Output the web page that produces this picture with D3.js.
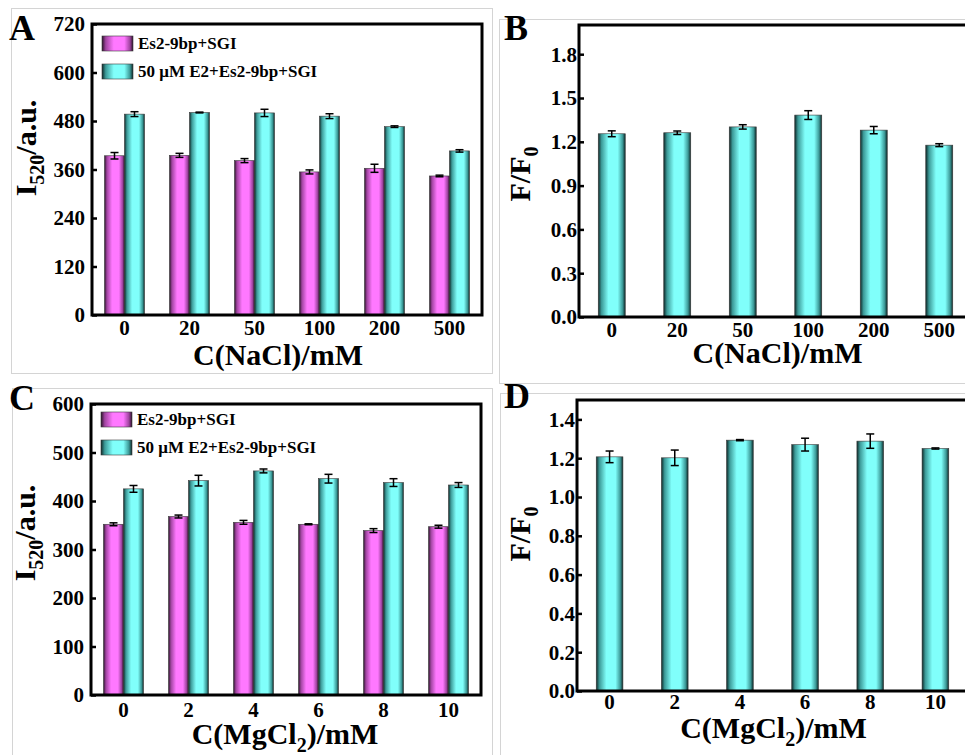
<!DOCTYPE html>
<html>
<head>
<meta charset="utf-8">
<script src="https://cdn.jsdelivr.net/npm/d3@7"></script>
<style>
  body { margin: 0; background: #fff; }
  svg text { font-family: "Liberation Serif", "Times New Roman", serif; font-weight: bold; fill: #000; }
</style>
</head>
<body>
<svg id="fig" width="965" height="755"></svg>
<script>
"use strict";

// NaCl series (panels A, B)
var naclLabels = ["0", "20", "50", "100", "200", "500"]
var naclProbe = [394, 395, 382, 354, 363, 344]
var naclProbeErr = [8, 5, 5, 5, 10, 2]
var naclE2 = [497, 501, 500, 492, 466, 406]
var naclE2Err = [6, 1, 9, 6, 2, 3]
var naclRatio = [1.255, 1.262, 1.302, 1.383, 1.280, 1.177]
var naclRatioErr = [0.02, 0.012, 0.015, 0.03, 0.025, 0.01]

// MgCl2 series (panels C, D)
var mgLabels = ["0", "2", "4", "6", "8", "10"]
var mgProbe = [352, 368, 356, 352, 339, 347]
var mgProbeErr = [3, 3, 4, 1, 4, 3]
var mgE2 = [425, 442, 462, 446, 438, 433]
var mgE2Err = [7, 11, 4, 9, 8, 5]
var mgRatio = [1.207, 1.202, 1.293, 1.270, 1.288, 1.250]
var mgRatioErr = [0.03, 0.04, 0.003, 0.033, 0.037, 0.003]

var seriesNames = ["Es2-9bp+SGI", "50 \u03bcM E2+Es2-9bp+SGI"]

var svg = d3.select("#fig")
svg.append("rect").attr("width", 965).attr("height", 755).attr("fill", "#fff")

var defs = svg.append("defs")
function makeGradient(id, dark, mid, bright) {
    var g = defs.append("linearGradient").attr("id", id)
        .attr("x1", "0%").attr("x2", "100%").attr("y1", "0%").attr("y2", "0%")
    var stops = [[0, dark], [0.12, mid], [0.38, bright], [0.72, bright], [0.9, mid], [1, dark]]
    stops.forEach(function(s) {
        g.append("stop").attr("offset", s[0]).attr("stop-color", s[1])
    })
}
makeGradient("gPink", "#2a1228", "#a044a0", "#ff78ff")
makeGradient("gCyan", "#0e2828", "#3c9a98", "#80fffb")

// light grey sub-figure frames
var frames = [[11, 8, 481, 365], [499, 19, 480, 364], [12, 388, 480, 380], [500, 393, 480, 380]]
svg.selectAll("rect.frame").data(frames).enter().append("rect")
    .attr("class", "frame")
    .attr("x", function(d) { return d[0] + 0.5 })
    .attr("y", function(d) { return d[1] + 0.5 })
    .attr("width", function(d) { return d[2] })
    .attr("height", function(d) { return d[3] })
    .attr("fill", "none").attr("stroke", "#d4d4d4").attr("stroke-width", 1)

function panel(o) {
    var g = svg.append("g")
    var x = d3.scaleBand().domain(o.labels).range([o.left, o.right])
        .paddingInner(o.pad).paddingOuter(o.pad / 2)
    var y = d3.scaleLinear().domain([0, o.ymax]).range([o.bottom, o.top])
    var sub = d3.scaleBand().domain(d3.range(o.series.length)).range([0, x.bandwidth()])
    var fills = o.series.length > 1 ? ["url(#gPink)", "url(#gCyan)"] : ["url(#gCyan)"]

    o.series.forEach(function(vals, si) {
        var rows = vals.map(function(v, i) { return { k: o.labels[i], v: v, e: o.errs[si][i] } })
        var sg = g.append("g")
        sg.selectAll("rect").data(rows).enter().append("rect")
            .attr("x", function(d) { return x(d.k) + sub(si) })
            .attr("y", function(d) { return y(d.v) })
            .attr("width", sub.bandwidth())
            .attr("height", function(d) { return y(0) - y(d.v) })
            .attr("fill", fills[si])
            .attr("stroke", "#3a3a3a").attr("stroke-width", 0.6)
        var eb = sg.selectAll("g.err").data(rows).enter().append("g")
            .attr("transform", function(d) { return "translate(" + (x(d.k) + sub(si) + sub.bandwidth() / 2) + ",0)" })
        eb.append("line").attr("y1", function(d) { return y(d.v + d.e) }).attr("y2", function(d) { return y(d.v - d.e) })
            .attr("stroke", "#000").attr("stroke-width", 1.5)
        eb.append("line").attr("x1", -4).attr("x2", 4)
            .attr("y1", function(d) { return y(d.v + d.e) }).attr("y2", function(d) { return y(d.v + d.e) })
            .attr("stroke", "#000").attr("stroke-width", 1.5)
        eb.append("line").attr("x1", -4).attr("x2", 4)
            .attr("y1", function(d) { return y(d.v - d.e) }).attr("y2", function(d) { return y(d.v - d.e) })
            .attr("stroke", "#000").attr("stroke-width", 1.5)
    })

    // frame box
    g.append("rect").attr("x", o.left).attr("y", o.top)
        .attr("width", o.right - o.left).attr("height", o.bottom - o.top)
        .attr("fill", "none").attr("stroke", "#000").attr("stroke-width", 3)

    var yAxis = d3.axisLeft(y).tickValues(o.ticks).tickSizeInner(-5).tickSizeOuter(0)
        .tickPadding(o.tpad).tickFormat(o.fmt)
    var ya = g.append("g").attr("transform", "translate(" + o.left + ",0)").call(yAxis)
    ya.select(".domain").remove()
    ya.selectAll(".tick line").attr("stroke", "#000").attr("stroke-width", 2.5)
    ya.selectAll(".tick text").attr("font-size", 21).attr("dy", "0.33em")

    var xa = g.append("g").attr("transform", "translate(0," + o.bottom + ")")
        .call(d3.axisBottom(x).tickSize(0).tickPadding(0))
    xa.select(".domain").remove()
    xa.selectAll(".tick text").attr("font-size", 21).attr("dy", null).attr("y", o.xlab)

    // axis titles
    var xt = g.append("text").attr("x", (o.left + o.right) / 2 + o.xshift).attr("y", o.xtitle)
        .attr("text-anchor", "middle").attr("font-size", 30)
    o.xparts.forEach(function(p) {
        var t = xt.append("tspan").text(p[0])
        if (p[1]) t.attr("font-size", 20).attr("dy", 8)
        else if (p[2]) t.attr("dy", -8)
    })
    var yt = g.append("text").attr("transform", "translate(" + o.ytx + "," + o.yty + ") rotate(-90)")
        .attr("text-anchor", "middle").attr("font-size", 30)
    o.yparts.forEach(function(p) {
        var t = yt.append("tspan").text(p[0])
        if (p[1]) t.attr("font-size", 20).attr("dy", 8)
        else if (p[2]) t.attr("dy", -8)
    })

    g.append("text").attr("x", o.lx).attr("y", o.ly).attr("font-size", 36).text(o.letter)

    if (o.legend) {
        var lg = g.selectAll("g.leg").data(seriesNames).enter().append("g")
            .attr("transform", function(d, i) { return "translate(" + o.legend[0] + "," + (o.legend[1] + i * 28) + ")" })
        lg.append("rect").attr("width", 31).attr("height", 15)
            .attr("fill", function(d, i) { return fills[i] })
            .attr("stroke", "#3a3a3a").attr("stroke-width", 0.6)
        lg.append("text").attr("x", 36).attr("y", 13).attr("font-size", 17).text(function(d) { return d })
    }
}

var yI = [["I"], ["520", true], ["/a.u.", false, true]]
var yF = [["F/F"], ["0", true]]
var xNa = [["C(NaCl)/mM"]]
var xMg = [["C(MgCl"], ["2", true], [")/mM", false, true]]

panel({ labels: naclLabels, series: [naclProbe, naclE2], errs: [naclProbeErr, naclE2Err],
    left: 92, right: 482, top: 24, bottom: 315, ymax: 720, ticks: d3.range(0, 721, 120),
    fmt: d3.format("d"), pad: 25 / 65, tpad: 7, xlab: 20, xtitle: 365, xshift: -9,
    xparts: xNa, yparts: yI, ytx: 36, yty: 148, letter: "A", lx: 9, ly: 40, legend: [102, 36] })

panel({ labels: naclLabels, series: [naclRatio], errs: [naclRatioErr],
    left: 579, right: 972, top: 25, bottom: 317, ymax: 2.0, ticks: d3.range(0, 1.81, 0.3),
    fmt: d3.format(".1f"), pad: 38.5 / 65.5, tpad: 2, xlab: 20, xtitle: 363, xshift: 2,
    xparts: xNa, yparts: yF, ytx: 530, yty: 174, letter: "B", lx: 504, ly: 40 })

panel({ labels: mgLabels, series: [mgProbe, mgE2], errs: [mgProbeErr, mgE2Err],
    left: 91, right: 481, top: 404, bottom: 695, ymax: 600, ticks: d3.range(0, 601, 100),
    fmt: d3.format("d"), pad: 25 / 65, tpad: 7, xlab: 22, xtitle: 744, xshift: -1,
    xparts: xMg, yparts: yI, ytx: 35, yty: 533, letter: "C", lx: 9, ly: 410, legend: [101, 412] })

panel({ labels: mgLabels, series: [mgRatio], errs: [mgRatioErr],
    left: 577, right: 968, top: 400, bottom: 691, ymax: 1.5, ticks: d3.range(0, 1.41, 0.2),
    fmt: d3.format(".1f"), pad: 38.5 / 65.2, tpad: 2, xlab: 18, xtitle: 738, xshift: 1,
    xparts: xMg, yparts: yF, ytx: 530, yty: 534, letter: "D", lx: 504, ly: 408 })
</script>
</body>
</html>
